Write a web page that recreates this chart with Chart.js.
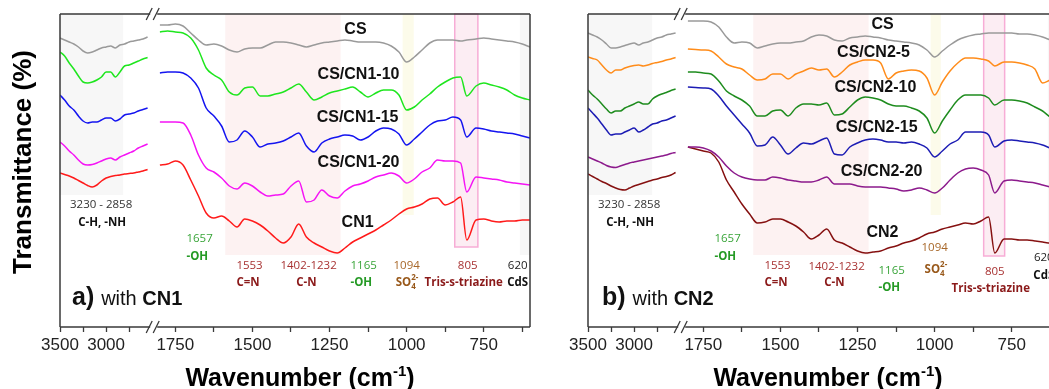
<!DOCTYPE html>
<html>
<head>
<meta charset="utf-8">
<script src="https://cdn.jsdelivr.net/npm/chart.js@4"></script>
<style>
  html, body { margin: 0; padding: 0; background: #fff; overflow: hidden; width: 1049px; height: 389px; }
  .panel { position: absolute; top: 0; width: 535px; height: 389px; }
  #panelA { left: 0; }
  #panelB { left: 528px; }
</style>
</head>
<body>
<div class="panel" id="panelA"><canvas id="chartA"></canvas></div>
<div class="panel" id="panelB"><canvas id="chartB"></canvas></div>
<script>
// wavenumbers (cm-1) of the two pieces of the broken axis
const wnLeft = [3500, 3450, 3400, 3350, 3300, 3250, 3200, 3150, 3100, 3050,
                3000, 2950, 2900, 2850, 2800, 2750, 2700, 2650, 2600, 2550];
const wnRight = [1800, 1775, 1750, 1725, 1700, 1675, 1650, 1625, 1600, 1575,
                 1550, 1525, 1500, 1475, 1450, 1425, 1400, 1375, 1350, 1325,
                 1300, 1275, 1250, 1225, 1200, 1175, 1150, 1125, 1100, 1075,
                 1050, 1025, 1000, 975, 950, 925, 900, 875, 850, 825,
                 805, 775, 750, 725, 700, 675, 650, 625, 600];
const ticksLeft = [3500, 3250, 3000, 2750];
const ticksRight = [1750, 1625, 1500, 1375, 1250, 1125, 1000, 875, 750, 625];

// panel a (offset transmittance, arbitrary units)
const csA_L = [289, 287, 285, 283, 280, 276, 274, 275, 277, 279, 280, 281, 279, 282, 283, 285, 286, 287, 288, 290];
const csA_R = [302, 302, 303, 301, 294, 287, 282, 283, 281, 277, 275, 278, 279, 279, 282, 285, 285, 284, 282, 280,
               282, 284, 285, 286, 287, 286, 285, 285, 285, 284, 281, 275, 265, 270, 277, 284, 287, 287, 287, 286,
               287, 288, 289, 288, 287, 286, 285, 283, 280];
const cn1_10_L = [275, 271, 264, 258, 251, 245, 244, 245, 247, 250, 255, 255, 250, 255, 261, 262, 264, 266, 268, 269.5];
const cn1_10_R = [295, 296, 295, 294, 289, 277, 259, 252, 247, 235, 232, 239, 240, 231, 231, 233, 235, 239, 243, 235,
                  227, 230, 234, 236, 238, 240, 235, 230, 234, 237, 237, 232, 217, 220, 227, 233, 240, 245, 249, 250,
                  231, 241, 244, 242, 240, 237, 232, 229, 227];
const cn1_15_L = [232, 227, 221, 217, 211, 206, 204, 205, 205, 207, 209, 209, 206, 208, 212, 213, 214, 216, 217.5, 219];
const cn1_15_R = [254, 255, 255, 254, 249, 239, 219, 211, 201, 185, 187, 196, 190, 180, 183, 184, 186, 190, 194, 181,
                  175, 184, 188, 190, 192, 191, 187, 190, 196, 199, 198, 193, 182, 188, 195, 202, 206, 207, 210, 207,
                  190, 199, 198, 196, 195, 194, 193, 191, 189];
const cn1_20_L = [185, 181, 176, 172, 167, 163, 162, 162.5, 164, 166, 168, 169, 167, 170, 172, 174, 176, 179, 181, 183];
const cn1_20_R = [205, 205, 205, 204, 192, 172, 159, 155, 149, 141, 138, 144, 141, 135, 131, 132, 133, 141, 146, 125,
                  127, 137, 131, 129, 136, 141, 143, 146, 150, 152, 154, 151, 144, 148, 155, 159, 167, 166, 166, 164,
                  135, 150, 149, 148, 147, 145, 144, 143, 142];
const cn1_L = [154, 152.5, 151, 149, 146.5, 144, 141.5, 140, 142, 146, 149, 150.5, 151.5, 152, 153, 153.5, 154, 155, 156, 157.5];
const cn1_R = [162, 163, 166, 162, 147, 131, 114, 109, 111, 106, 100, 108, 106, 102, 96, 89, 84, 90, 103, 90,
               84, 80, 76, 74, 79, 85, 89, 93, 97, 102, 107, 113, 118, 120, 123, 128, 129, 122, 125, 130,
               87, 107, 108, 106, 105, 106, 106, 107, 107];

// panel b
const csB_L = [294, 292, 290, 287, 283, 279, 279, 280, 281.5, 283, 284, 282, 284, 285, 287, 289, 290, 292, 293, 294];
const csB_R = [306, 306, 306, 305, 300, 290, 284, 285, 284, 279, 281, 283, 284, 284, 285, 286, 290, 292, 291, 287,
               286, 289, 290, 291, 290, 289, 287, 286, 285, 284, 282, 277, 270, 276, 282, 287, 290, 292, 293, 294,
               294, 294, 294, 293, 293, 292, 290, 287, 284];
const cn2_5_L = [270, 268.5, 267, 262, 257, 254, 257, 257, 259, 260.5, 261.5, 262, 261, 262, 263.5, 264.5, 265.5, 267, 268, 269.5];
const cn2_5_R = [278, 277.5, 277, 276, 270, 263, 260, 258, 252, 247, 248, 253, 253, 248, 253, 256, 259, 257, 258, 250,
                 255, 262, 265, 267, 267, 264, 248, 254, 256, 257, 256, 249, 232, 245, 256, 264, 269, 269, 268, 266,
                 261, 265, 265, 264, 262, 258, 244, 247, 249];
const cn2_10_L = [237, 232, 228, 223, 218, 214, 216, 216, 219, 221, 223, 225, 223, 223, 228, 231, 233, 234.5, 236.5, 238];
const cn2_10_R = [255, 255, 254, 253, 246, 236, 231, 227, 221, 211, 211, 216, 217, 211, 219, 223, 223, 222, 224, 212,
                  213, 220, 227, 230, 229, 227, 223, 221, 221, 219, 216, 209, 194, 206, 217, 227, 232, 232, 232, 229,
                  222, 227, 227, 226, 224, 220, 216, 210, 207];
const cn2_15_L = [219, 214, 209, 203, 197, 192, 193, 193, 195, 197, 199, 195, 197, 200, 203, 204, 206, 207, 209, 211];
const cn2_15_R = [240, 239.5, 239, 238, 231, 221, 212, 203, 194, 181, 182, 190, 182, 173, 179, 184, 183, 186, 189, 173,
                  172, 180, 184, 187, 188, 187, 185, 185, 184, 185, 183, 179, 170, 176, 183, 187, 195, 195, 195, 192,
                  180, 186, 187, 186, 185, 184, 182, 179, 177];
const cn2_20_L = [170, 168, 166, 164, 161.5, 160, 159.5, 161, 162.5, 164, 165, 166, 167, 168, 169, 170, 171, 172, 173.5, 174.5];
const cn2_20_R = [180, 180, 179, 176, 170, 161, 154, 150, 148, 147, 147, 150, 149, 147, 146, 145, 145, 147, 150, 143,
                  143, 143, 141, 140, 140, 140, 139, 138, 136, 137, 139, 137, 134, 139, 147, 154, 158, 159, 157, 152,
                  134, 146, 147, 146, 145, 144, 142, 140, 138];
const cn2_L = [153, 150.5, 148, 145.5, 143.5, 141, 139, 137.5, 137, 139, 141, 142.5, 144, 145.5, 147, 148, 149.5, 150.5, 152, 154.5];
const cn2_R = [180, 178, 176, 174, 165, 147, 135, 123, 113, 104, 105, 108, 108, 105, 101, 95, 88, 92, 98, 87,
               84, 80, 76, 74, 75, 76, 79, 81, 84, 86, 89, 93, 95, 98, 100, 102, 104, 103, 106, 110,
               74, 88, 88, 87, 87, 86, 85, 84, 84];

const ARIAL = '"Liberation Sans", Arial, sans-serif';
const NOTE = '"Open Sans", sans-serif';

const seriesA = [
  { name: 'CS', color: '#9a9a9a', left: csA_L, right: csA_R },
  { name: 'CS/CN1-10', color: '#1ee61e', left: cn1_10_L, right: cn1_10_R },
  { name: 'CS/CN1-15', color: '#1414f0', left: cn1_15_L, right: cn1_15_R },
  { name: 'CS/CN1-20', color: '#f514f5', left: cn1_20_L, right: cn1_20_R },
  { name: 'CN1', color: '#ff1a1a', left: cn1_L, right: cn1_R }
];
const seriesB = [
  { name: 'CS', color: '#9a9a9a', left: csB_L, right: csB_R },
  { name: 'CS/CN2-5', color: '#ff8c1a', left: cn2_5_L, right: cn2_5_R },
  { name: 'CS/CN2-10', color: '#1e8c1e', left: cn2_10_L, right: cn2_10_R },
  { name: 'CS/CN2-15', color: '#1c1cb4', left: cn2_15_L, right: cn2_15_R },
  { name: 'CS/CN2-20', color: '#8c1a8c', left: cn2_20_L, right: cn2_20_R },
  { name: 'CN2', color: '#851010', left: cn2_L, right: cn2_R }
];

const RED = '#a83232', DRED = '#8b1a1a', GRN = '#3aa53a', DGRN = '#259a25', BRN = '#a8682a';
const GREY_BAND = '#f7f7f7', PINK_BAND = '#fdf2f2', YELLOW_BAND = '#fcfbea', BOX_FILL = '#fcedf3';

const decorA = {
  yTitle: true,
  bands: [
    { axis: 'xL', from: 3500, to: 2815, bottom: 132, fill: GREY_BAND },
    { axis: 'xR', from: 1588, to: 1214, bottom: 72, fill: PINK_BAND },
    { axis: 'xR', from: 1013, to: 977, bottom: 112, fill: YELLOW_BAND },
    { axis: 'xR', from: 844, to: 769, bottom: 80, fill: BOX_FILL, stroke: '#f7add6' },
    { axis: 'xR', from: 633, to: 600, bottom: 72, fill: GREY_BAND }
  ],
  curveLabels: [
    { w: 1166, y: 297, text: 'CS' }, { w: 1156, y: 252, text: 'CS/CN1-10' },
    { w: 1159, y: 209, text: 'CS/CN1-15' }, { w: 1156, y: 164, text: 'CS/CN1-20' },
    { w: 1159, y: 104, text: 'CN1' }
  ],
  notes: [
    { axis: 'xL', w: 3054, y: 122, text: '3230 - 2858', color: '#333' },
    { axis: 'xL', w: 3043, y: 104, text: 'C-H, -NH', color: '#111', bold: true },
    { w: 1714, y: 88, text: '1657', color: GRN, align: 'left' },
    { w: 1714, y: 70, text: '-OH', color: DGRN, bold: true, align: 'left' },
    { w: 1552, y: 61, text: '1553', color: RED, align: 'left' },
    { w: 1552, y: 44, text: 'C=N', color: DRED, bold: true, align: 'left' },
    { w: 1318, y: 61, text: '1402-1232', color: RED },
    { w: 1325, y: 44, text: 'C-N', color: DRED, bold: true },
    { w: 1182, y: 61, text: '1165', color: GRN, align: 'left' },
    { w: 1182, y: 44, text: '-OH', color: DGRN, bold: true, align: 'left' },
    { w: 1000, y: 61, text: '1094', color: BRN },
    { w: 1003, y: 44, so4: true, color: '#98581a' },
    { w: 802, y: 61, text: '805', color: RED },
    { w: 815, y: 44, text: 'Tris-s-triazine', color: DRED, bold: true },
    { w: 640, y: 61, text: '620', color: '#222' },
    { w: 640, y: 44, text: 'CdS', color: '#111', bold: true }
  ],
  tag: { w: 3370, y: 22, letter: 'a)', name: 'CN1' }
};

const decorB = {
  yTitle: false,
  bands: [
    { axis: 'xL', from: 3500, to: 2804, bottom: 132, fill: GREY_BAND },
    { axis: 'xR', from: 1588, to: 1214, bottom: 72, fill: PINK_BAND },
    { axis: 'xR', from: 1013, to: 980, bottom: 112, fill: YELLOW_BAND },
    { axis: 'xR', from: 841, to: 773, bottom: 71, fill: BOX_FILL, stroke: '#f7add6' },
    { axis: 'xR', from: 633, to: 600, bottom: 72, fill: GREY_BAND }
  ],
  curveLabels: [
    { w: 1169, y: 302, text: 'CS' }, { w: 1198, y: 274, text: 'CS/CN2-5' },
    { w: 1192, y: 239, text: 'CS/CN2-10' }, { w: 1188, y: 199, text: 'CS/CN2-15' },
    { w: 1172, y: 155, text: 'CS/CN2-20' }, { w: 1169, y: 94, text: 'CN2' }
  ],
  notes: [
    { axis: 'xL', w: 3054, y: 122, text: '3230 - 2858', color: '#333' },
    { axis: 'xL', w: 3043, y: 104, text: 'C-H, -NH', color: '#111', bold: true },
    { w: 1714, y: 88, text: '1657', color: GRN, align: 'left' },
    { w: 1714, y: 70, text: '-OH', color: DGRN, bold: true, align: 'left' },
    { w: 1552, y: 61, text: '1553', color: RED, align: 'left' },
    { w: 1552, y: 44, text: 'C=N', color: DRED, bold: true, align: 'left' },
    { w: 1318, y: 60, text: '1402-1232', color: RED },
    { w: 1325, y: 44, text: 'C-N', color: DRED, bold: true },
    { w: 1182, y: 56, text: '1165', color: GRN, align: 'left' },
    { w: 1182, y: 39, text: '-OH', color: DGRN, bold: true, align: 'left' },
    { w: 1000, y: 79, text: '1094', color: BRN },
    { w: 1000, y: 57, so4: true, color: '#98581a' },
    { w: 805, y: 55, text: '805', color: RED },
    { w: 818, y: 38, text: 'Tris-s-triazine', color: DRED, bold: true },
    { w: 646, y: 69, text: '620', color: '#222' },
    { w: 646, y: 51, text: 'CdS', color: '#111', bold: true }
  ],
  tag: { w: 3348, y: 22, letter: 'b)', name: 'CN2' }
};

function drawRuns(ctx, runs, x, y, align) {
  let total = 0;
  runs.forEach(r => { ctx.font = r.font; r.width = ctx.measureText(r.t).width; total += r.width; });
  let cx = align === 'left' ? x : x - total / 2;
  ctx.textAlign = 'left';
  runs.forEach(r => {
    ctx.font = r.font;
    ctx.fillText(r.t, cx, y + (r.dy || 0));
    cx += r.width;
  });
}

function makeDecor(cfg) {
  return {
    id: 'panelDecor',
    beforeDatasetsDraw(chart) {
      const { ctx, chartArea: ca, scales } = chart;
      ctx.save();
      cfg.bands.forEach(b => {
        const xs = scales[b.axis];
        const x1 = xs.getPixelForValue(b.from), x2 = xs.getPixelForValue(b.to);
        const yb = scales.y.getPixelForValue(b.bottom);
        ctx.fillStyle = b.fill;
        ctx.fillRect(x1, ca.top, x2 - x1, yb - ca.top);
        if (b.stroke) {
          ctx.strokeStyle = b.stroke;
          ctx.lineWidth = 1.5;
          ctx.strokeRect(x1, ca.top, x2 - x1, yb - ca.top);
        }
      });
      ctx.restore();
    },
    afterDraw(chart) {
      const { ctx, chartArea: ca, scales } = chart;
      const y = scales.y;
      const xb = scales.xL.right;
      ctx.save();

      // frame with the axis break
      ctx.strokeStyle = '#3a3a3a';
      ctx.lineWidth = 1.5;
      ctx.beginPath();
      ctx.moveTo(ca.left, ca.top); ctx.lineTo(ca.left, ca.bottom);
      ctx.moveTo(ca.right, ca.top); ctx.lineTo(ca.right, ca.bottom);
      [ca.top, ca.bottom].forEach(yy => {
        ctx.moveTo(ca.left, yy); ctx.lineTo(xb - 2, yy);
        ctx.moveTo(xb + 5, yy); ctx.lineTo(ca.right, yy);
      });
      ctx.stroke();
      ctx.lineWidth = 1.3;
      ctx.beginPath();
      [ca.top, ca.bottom].forEach(yy => {
        [xb - 3, xb + 4].forEach(cx => {
          ctx.moveTo(cx - 3, yy + 6); ctx.lineTo(cx + 3, yy - 6);
        });
      });
      ctx.stroke();

      // curve names
      ctx.fillStyle = '#111';
      ctx.textBaseline = 'middle';
      ctx.textAlign = 'center';
      ctx.font = 'bold 16px ' + ARIAL;
      cfg.curveLabels.forEach(l => {
        ctx.fillText(l.text, scales.xR.getPixelForValue(l.w), y.getPixelForValue(l.y));
      });

      // band annotations
      cfg.notes.forEach(n => {
        const xs = scales[n.axis || 'xR'];
        const px = xs.getPixelForValue(n.w), py = y.getPixelForValue(n.y);
        ctx.fillStyle = n.color;
        if (n.so4) {
          drawRuns(ctx, [
            { t: 'SO', font: 'bold 11.5px ' + NOTE },
            { t: '4', font: 'bold 8px ' + NOTE, dy: 4 }
          ], px, py, 'center');
          ctx.font = 'bold 11.5px ' + NOTE;
          const wSO = ctx.measureText('SO').width;
          ctx.font = 'bold 8px ' + NOTE;
          const w4 = ctx.measureText('4').width;
          ctx.textAlign = 'left';
          ctx.fillText('2-', px - (wSO + w4) / 2 + wSO, py - 5);
          return;
        }
        ctx.font = (n.bold ? 'bold ' : '') + '11.5px ' + NOTE;
        ctx.textAlign = n.align || 'center';
        ctx.fillText(n.text, px, py);
      });

      // panel tag, e.g. "a) with CN1"
      ctx.fillStyle = '#111';
      ctx.textBaseline = 'alphabetic';
      drawRuns(ctx, [
        { t: cfg.tag.letter + ' ', font: 'bold 25px ' + ARIAL },
        { t: 'with ', font: '20px ' + ARIAL },
        { t: cfg.tag.name, font: 'bold 20px ' + ARIAL }
      ], scales.xL.getPixelForValue(cfg.tag.w), y.getPixelForValue(cfg.tag.y), 'left');

      // x axis title with superscript
      ctx.fillStyle = '#000';
      drawRuns(ctx, [
        { t: 'Wavenumber (cm', font: 'bold 25px ' + ARIAL },
        { t: '-1', font: 'bold 15px ' + ARIAL, dy: -10 },
        { t: ')', font: 'bold 25px ' + ARIAL }
      ], ca.left + 240, 386, 'center');

      if (cfg.yTitle) {
        ctx.translate(24, 162);
        ctx.rotate(-Math.PI / 2);
        ctx.textAlign = 'center';
        ctx.textBaseline = 'middle';
        ctx.font = 'bold 26px ' + ARIAL;
        ctx.fillText('Transmittance (%)', 0, 0);
      }
      ctx.restore();
    }
  };
}

function xAxis(min, max, weight, tickValues, labelStep) {
  return {
    type: 'linear', position: 'bottom', stack: 'wn', stackWeight: weight,
    reverse: true, min: min, max: max,
    afterBuildTicks: s => { s.ticks = tickValues.map(v => ({ value: v })); },
    afterFit: s => { s.height = 62; },
    border: { display: false },
    grid: { drawOnChartArea: false, drawTicks: true, tickLength: 5, tickColor: '#3a3a3a', tickWidth: 1.3 },
    ticks: {
      autoSkip: false, maxRotation: 0, padding: 3, color: '#222',
      font: { family: ARIAL, size: 17 },
      callback: v => (v % labelStep === 0 ? String(v) : '')
    }
  };
}

function makeChart(id, series, decor) {
  const datasets = [];
  series.forEach(s => {
    datasets.push({
      label: s.name, xAxisID: 'xL', yAxisID: 'y', borderColor: s.color,
      data: wnLeft.map((w, i) => ({ x: w, y: s.left[i] }))
    });
    datasets.push({
      label: s.name, xAxisID: 'xR', yAxisID: 'y', borderColor: s.color,
      data: wnRight.map((w, i) => ({ x: w, y: s.right[i] }))
    });
  });
  return new Chart(document.getElementById(id), {
    type: 'line',
    data: { datasets: datasets },
    options: {
      responsive: true,
      maintainAspectRatio: false,
      animation: false,
      events: [],
      layout: { padding: { top: 14, right: 5, left: 0, bottom: 0 } },
      elements: {
        point: { radius: 0 },
        line: { borderWidth: 1.5, cubicInterpolationMode: 'monotone', fill: false }
      },
      scales: {
        xL: xAxis(2500, 3500, 92, ticksLeft, 500),
        xR: xAxis(600, 1825, 377, ticksRight, 250),
        y: {
          min: 0, max: 313,
          ticks: { display: false },
          grid: { display: false },
          border: { display: false },
          afterFit: s => { s.width = 60; }
        }
      },
      plugins: { legend: { display: false }, tooltip: { enabled: false } }
    },
    plugins: [makeDecor(decor)]
  });
}

document.addEventListener('DOMContentLoaded', function () {
  makeChart('chartA', seriesA, decorA);
  makeChart('chartB', seriesB, decorB);
});
</script>
</body>
</html>
